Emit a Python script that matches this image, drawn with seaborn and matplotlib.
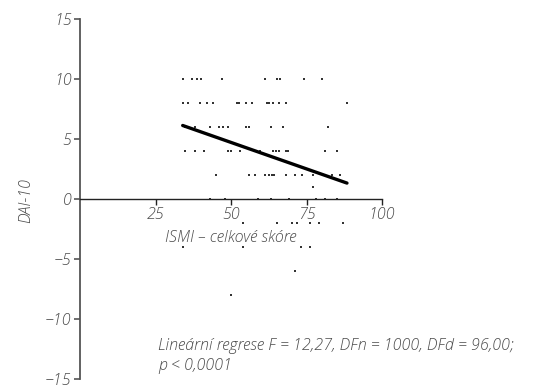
import matplotlib

matplotlib.use("Agg")
import matplotlib.pyplot as plt
import pandas as pd
import seaborn as sns

# ISMI total score (x) vs DAI-10 (y)
ISMI = [
    34.0, 37.0, 38.6, 40.0, 46.9, 61.3, 65.3, 66.2, 74.1, 80.2,
    34.0, 35.9, 39.7, 42.0, 43.9, 51.9, 52.6, 55.0, 57.1, 61.8, 62.7, 63.8, 66.0, 68.1, 88.4,
    34.9, 38.1, 43.0, 46.1, 47.2, 49.1, 55.0, 56.1, 63.1, 67.1, 82.2,
    34.9, 38.1, 41.1, 49.1, 50.0, 53.0, 57.9, 59.6, 64.0, 64.9, 66.0, 68.1, 69.0, 81.1, 85.2,
    45.0, 56.1, 58.0, 61.3, 62.7, 63.5, 64.2, 68.2, 71.2, 73.4, 77.0, 83.5, 86.2,
    77.0,
    43.0, 48.0, 59.0, 63.1, 69.3, 78.1, 81.1, 85.2,
    53.9, 65.3, 70.1, 72.0, 76.2, 79.2, 87.2,
    34.2, 53.9, 73.1, 76.2,
    71.2,
    50.0,
]
DAI = (
    [10] * 10
    + [8] * 15
    + [6] * 11
    + [4] * 15
    + [2] * 13
    + [1]
    + [0] * 8
    + [-2] * 7
    + [-4] * 4
    + [-6]
    + [-8]
)
X_TICKS = [25, 50, 75, 100]
Y_TICKS = [-15, -10, -5, 0, 5, 10, 15]
NOTE = "Lineární regrese F = 12,27, DFn = 1000, DFd = 96,00;\np < 0,0001"

sns.set_style("ticks")
plt.rcParams["font.family"] = ["Open Sans", "DejaVu Sans"]

df = pd.DataFrame({"ismi": ISMI, "dai": DAI})

fig = plt.figure(figsize=(5.5, 3.89), dpi=100)
ax = fig.add_axes([80 / 550, 10 / 389, 302 / 550, 360 / 389])

sns.regplot(
    data=df,
    x="ismi",
    y="dai",
    ci=None,
    truncate=True,
    marker="s",
    scatter_kws={"s": 4.5, "color": "black", "linewidths": 0},
    line_kws={"color": "black", "linewidth": 2.4},
    ax=ax,
)

ax.set_xlim(0, 100)
ax.set_ylim(-15, 15)
ax.set_xticks(X_TICKS)
ax.set_yticks(Y_TICKS)
ax.set_yticklabels([str(t).replace("-", "\u2212") for t in Y_TICKS])

sns.despine(ax=ax)
ax.spines["bottom"].set_position(("data", 0))
ax.spines["bottom"].set_color("#222222")
ax.spines["left"].set_color("#555555")
ax.spines["left"].set_linewidth(1.3)
ax.spines["bottom"].set_linewidth(1.0)

fs = 11.5
tick_font = dict(fontsize=fs, style="italic", weight="light", color="#4a4a4a")
ax.tick_params(axis="y", direction="out", length=4, width=1.2, color="#555555",
               labelcolor="#4a4a4a", labelsize=fs, pad=2, left=True)
ax.tick_params(axis="x", direction="out", length=4, width=1.0, color="#222222",
               labelcolor="#4a4a4a", labelsize=fs, pad=2, bottom=True)
for lbl in ax.get_xticklabels() + ax.get_yticklabels():
    lbl.set_fontstyle("italic")
    lbl.set_fontweight("light")

ax.set_xlabel("ISMI \u2013 celkové skóre", **tick_font)
ax.xaxis.set_label_coords(0.5, 0.415)
ax.set_ylabel("DAI-10", **tick_font)
ax.yaxis.set_label_coords(-0.15, 0.495)

fig.text(158 / 550, 1 - 338 / 389, NOTE, ha="left", va="top", linespacing=1.3,
         **tick_font)

fig.savefig("out.png", dpi=100)
